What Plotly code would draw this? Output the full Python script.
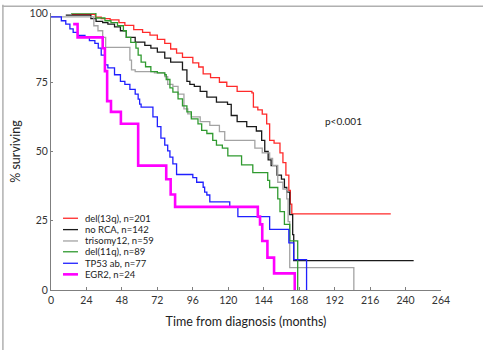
import plotly.graph_objects as go

# ---- data ----
x_ticks = [0, 24, 48, 72, 96, 120, 144, 168, 192, 216, 240, 264]
y_ticks = [0, 25, 50, 75, 100]

series_names = ["del(13q), n=201", "no RCA, n=142", "trisomy12, n=59",
                "del(11q), n=89", "TP53 ab, n=77", "EGR2, n=24"]

del13q_t = [14, 30, 34, 40, 46, 50, 56, 62, 67, 72, 77, 81, 85, 89, 96, 100, 103, 108,
            114, 119, 126, 136, 137, 140, 143, 146, 148, 151, 155, 157, 159, 161, 162, 163, 230]
del13q_s = [99.5, 98.5, 98, 97.5, 96.5, 95.5, 94, 93, 92, 90.5, 89, 87, 85.5, 84, 82, 80.5, 78, 76.7,
            75, 73.5, 71.7, 71.2, 66, 65, 63.5, 60, 54, 53, 49.5, 46, 41.5, 36, 31, 27.5, 27.5]

norca_t = [10, 27, 30.5, 35, 38.5, 43, 47, 51, 57, 63.5, 67.6, 72, 77, 81, 89, 92, 94, 97, 101,
           105.5, 112, 119.5, 122, 126, 132.5, 139, 142.6, 144.7, 147, 149, 153, 156, 158, 159.6,
           161.6, 163.6, 164.3, 245.5]
norca_s = [99.2, 98, 97, 96.5, 96, 95, 93.6, 91.2, 89.5, 88.3, 87.3, 85.9, 83.7, 82.3, 79.5, 75.3,
           74.2, 73.5, 71.7, 69.6, 67.8, 67, 63, 60.8, 59, 57.4, 54, 50, 47, 44.9, 41.5, 40, 37, 35.3,
           27.2, 20, 10.6, 10.6]

tri12_t = [0, 29, 31.8, 35, 37, 53.4, 54.5, 57, 70, 77, 79, 82.5, 86, 90, 92.6, 95, 101, 107.5,
           114, 117.6, 138, 143, 148, 150, 153.5, 157, 159.6, 160.5, 161.6, 205]
tri12_s = [98.6, 95.4, 93.6, 91.2, 87.6, 83, 79.5, 78.8, 78.4, 77, 74.2, 73.5, 70.7, 65.4, 63.6,
           62.5, 60.8, 59.4, 57.2, 54, 51.2, 49.5, 47.5, 45, 38.9, 36.4, 32.9, 24.7, 8.1, 0]

del11q_t = [13.5, 30.4, 36.5, 40.6, 45, 49, 51, 54, 57.5, 59, 61, 64, 67.6, 72, 77, 78, 80.5, 82.5,
            86, 89, 92, 95, 99.5, 102, 105.5, 109.5, 112, 116, 119.7, 129, 136.6, 146.7, 148, 153.5,
            155, 158, 161.6, 167]
del11q_s = [100, 98.2, 97.2, 96.5, 95.4, 93.6, 91.2, 89.4, 87.3, 84.8, 82.3, 80.6, 78.8, 78.4, 77.7,
            76, 73, 71.4, 69, 66.5, 64.3, 61.8, 60, 57.6, 56.5, 54, 52.3, 51.2, 48.4, 45.2, 42.4, 39.6,
            37, 32.9, 28.3, 23.7, 17.7, 0]

tp53_t = [0, 7, 10, 12.8, 15, 18, 23, 26, 29.7, 32, 34, 36.5, 38.5, 43, 47, 50, 53.4, 57, 59, 60,
          61, 69, 72, 74.4, 77, 79, 80.5, 82.5, 85, 96, 98.6, 103, 104, 105.5, 107.5, 121, 126.5,
          148, 161, 164.3, 173]
tp53_s = [98.6, 97.2, 96, 94.3, 93, 91.9, 91.2, 90, 89, 87.3, 84.8, 81.3, 80.2, 77.7, 75.3, 74.2,
          72.4, 70.7, 68.9, 67.1, 66, 62.5, 59, 54.8, 52.3, 50.2, 48, 45.5, 41.7, 40.6, 38.9, 37.1,
          35.3, 34.3, 31.8, 30, 26.5, 21.9, 17, 11, 0]

egr2_t = [15, 18, 35, 36.5, 38, 40.6, 47.3, 59, 78, 81, 84, 140, 141.5, 143, 146.5, 151, 165]
egr2_s = [96, 91.2, 87.3, 79, 68.2, 64.3, 60, 44.9, 40, 34.5, 30, 26.5, 23.7, 17.7, 11.7, 6, 0]

series_t = [del13q_t, norca_t, tri12_t, del11q_t, tp53_t, egr2_t]
series_s = [del13q_s, norca_s, tri12_s, del11q_s, tp53_s, egr2_s]
colors = ["#ff2a2a", "#1a1a1a", "#a3a3a3", "#2f9a2f", "#2020ff", "#ff00ff"]
widths = [1.3, 1.3, 1.3, 1.3, 1.3, 2.6]

font_family = "Lato, 'Open Sans', sans-serif"

fig = go.Figure()
for name, t, s, c, w in zip(series_names, series_t, series_s, colors, widths):
    fig.add_trace(go.Scatter(x=t, y=s, mode="lines", name=name,
                             line=dict(color=c, width=w, shape="hv"),
                             showlegend=False, hoverinfo="skip"))

# custom compact legend (paper coords)
leg_y = [0.259, 0.218, 0.177, 0.138, 0.0965, 0.0565]
for name, c, w, yy in zip(series_names, colors, widths, leg_y):
    fig.add_shape(type="line", xref="paper", yref="paper", x0=0.0308, x1=0.0692,
                  y0=yy, y1=yy, line=dict(color=c, width=w))
    fig.add_annotation(xref="paper", yref="paper", x=0.082, y=yy, text=name,
                       showarrow=False, xanchor="left", yanchor="middle",
                       font=dict(family=font_family, size=9.5, color="#222222"))

fig.add_annotation(xref="paper", yref="paper", x=0.749, y=0.611, text="p<0.001",
                   showarrow=False, xanchor="center", yanchor="middle",
                   font=dict(family=font_family, size=10, color="#222222"))

# outer frame lines (top and left)
fig.add_shape(type="line", xref="paper", yref="paper", x0=-0.1256, x1=1.12, y0=1.0247, y1=1.0247,
              line=dict(color="#b0b0b0", width=1.5))
fig.add_shape(type="line", xref="paper", yref="paper", x0=-0.1233, x1=-0.1233, y0=-0.22, y1=1.03,
              line=dict(color="#b0b0b0", width=1.5))

fig.update_layout(
    width=483, height=350,
    margin=dict(l=51, r=42, t=7, b=60),
    paper_bgcolor="white", plot_bgcolor="white",
    font=dict(family=font_family, size=10.5, color="#333333"),
    xaxis=dict(range=[0, 264], tickvals=x_ticks, ticks="inside", ticklen=3,
               tickcolor="#7f7f7f", showline=True, linecolor="#7f7f7f", linewidth=1,
               showgrid=False, zeroline=False,
               title=dict(text="Time from diagnosis (months)", standoff=12,
                          font=dict(family=font_family, size=12.5, color="#222222"))),
    yaxis=dict(range=[0, 100], tickvals=y_ticks, ticks="inside", ticklen=2,
               tickcolor="#7f7f7f", showline=True, linecolor="#7f7f7f", linewidth=1,
               showgrid=False, zeroline=False,
               title=dict(text="% surviving", standoff=6,
                          font=dict(family=font_family, size=12.5, color="#222222"))),
)

fig.write_html("out.html")
